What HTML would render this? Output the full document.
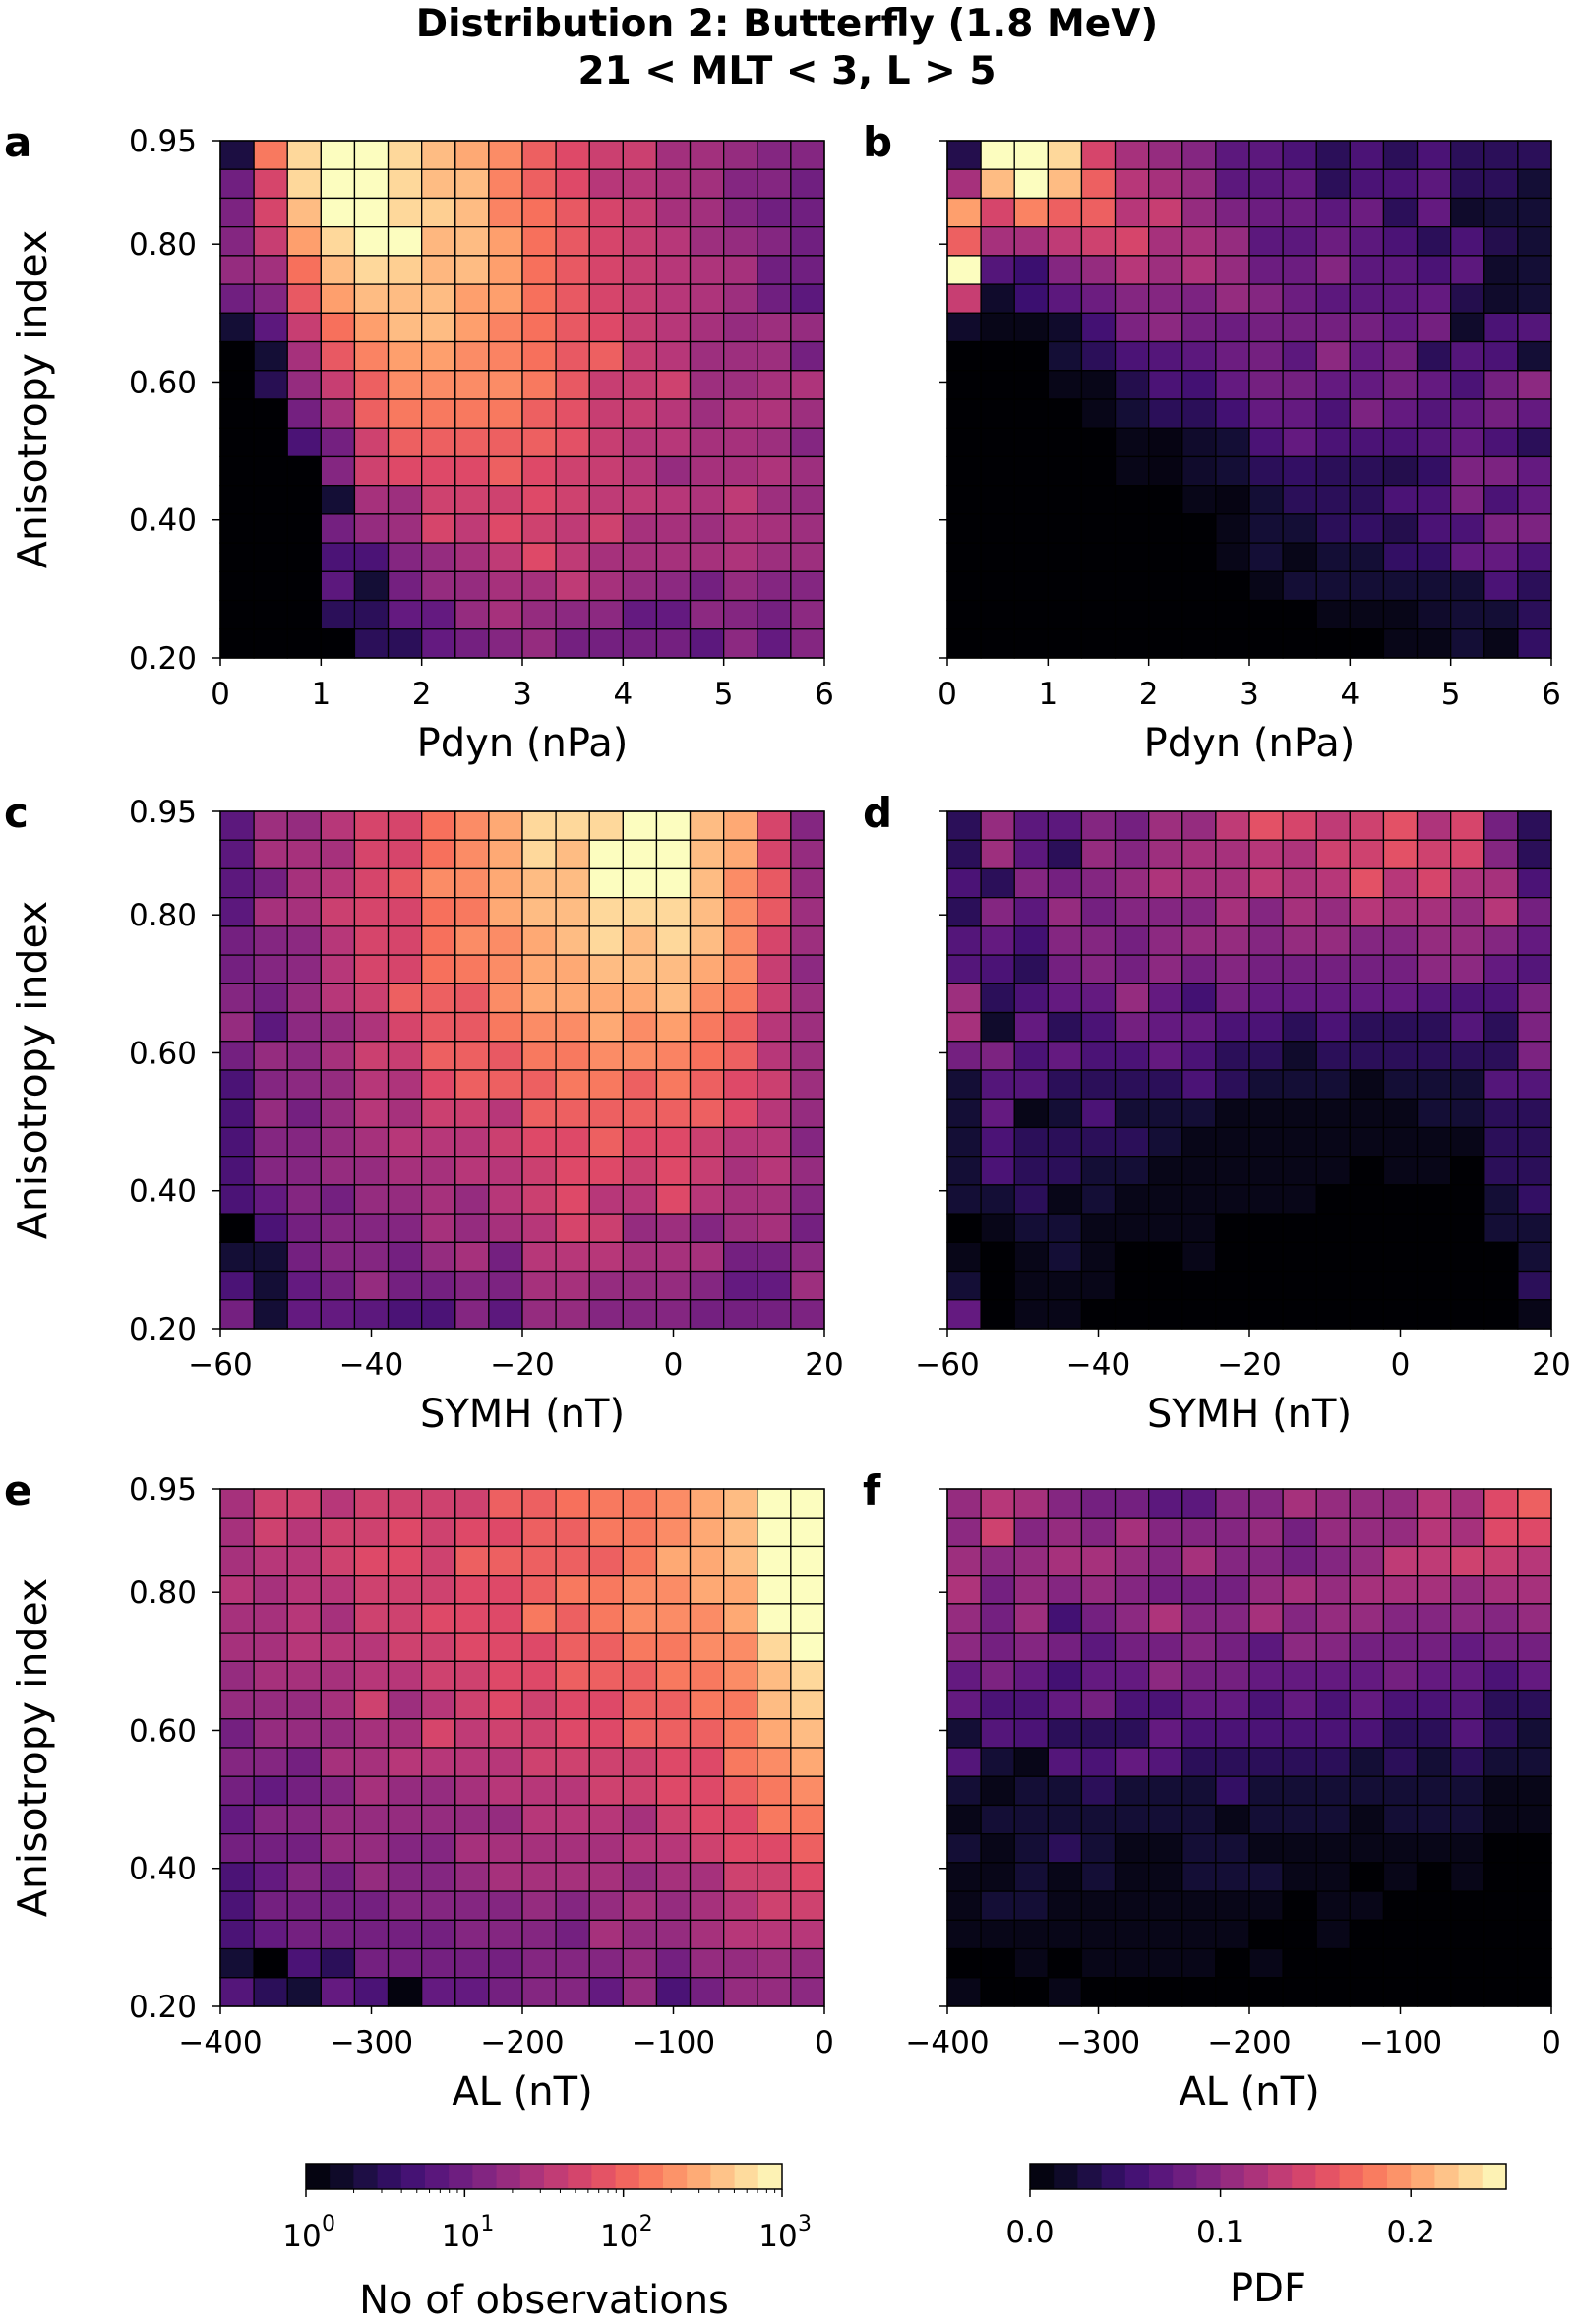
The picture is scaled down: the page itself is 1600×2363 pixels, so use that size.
<!DOCTYPE html>
<html><head><meta charset="utf-8"><style>
html,body{margin:0;padding:0;background:#fff}
svg text{font-family:"DejaVu Sans","Liberation Sans",sans-serif;fill:#000}
</style></head><body>
<svg id="fig" width="1600" height="2358" viewBox="0 0 1600 2358" xmlns="http://www.w3.org/2000/svg">
<text x="800" y="37" font-size="39" font-weight="bold" text-anchor="middle">Distribution 2: Butterfly (1.8 MeV)</text>
<text x="800" y="85" font-size="39" font-weight="bold" text-anchor="middle">21 &lt; MLT &lt; 3, L &gt; 5</text>
</svg>
<script>
// Values are fractions of each panel's colour range (counts: log10 0..3, PDF: 0..0.25); rows top (0.95) to bottom (0.20)
const panelA = [
[0.12,0.72,0.92,1,1,0.92,0.86,0.82,0.76,0.66,0.6,0.55,0.55,0.45,0.45,0.42,0.38,0.38],
[0.33,0.58,0.92,1,1,0.92,0.86,0.86,0.74,0.66,0.6,0.5,0.5,0.46,0.45,0.38,0.38,0.33],
[0.36,0.58,0.86,1,1,0.92,0.9,0.86,0.74,0.7,0.64,0.58,0.54,0.46,0.45,0.38,0.33,0.33],
[0.38,0.54,0.8,0.92,1,1,0.85,0.86,0.8,0.7,0.64,0.58,0.54,0.5,0.44,0.42,0.38,0.33],
[0.42,0.45,0.7,0.86,0.92,0.9,0.85,0.86,0.8,0.7,0.64,0.58,0.54,0.5,0.48,0.46,0.33,0.33],
[0.33,0.38,0.64,0.8,0.86,0.86,0.86,0.8,0.8,0.7,0.64,0.58,0.54,0.5,0.48,0.44,0.33,0.28],
[0.1,0.28,0.54,0.7,0.8,0.86,0.86,0.8,0.74,0.7,0.64,0.6,0.54,0.5,0.46,0.42,0.44,0.42],
[0,0.1,0.46,0.64,0.74,0.8,0.8,0.76,0.74,0.7,0.64,0.66,0.54,0.5,0.44,0.44,0.44,0.34],
[0,0.15,0.42,0.54,0.66,0.76,0.76,0.76,0.76,0.72,0.64,0.54,0.54,0.56,0.44,0.44,0.46,0.48],
[0,0,0.34,0.46,0.66,0.72,0.72,0.72,0.72,0.66,0.62,0.54,0.54,0.5,0.44,0.48,0.48,0.44],
[0,0,0.24,0.34,0.56,0.66,0.66,0.66,0.66,0.66,0.62,0.54,0.5,0.5,0.46,0.46,0.44,0.38],
[0,0,0,0.38,0.56,0.6,0.6,0.6,0.66,0.6,0.56,0.54,0.5,0.42,0.46,0.46,0.48,0.44],
[0,0,0,0.1,0.46,0.44,0.56,0.56,0.56,0.6,0.56,0.52,0.52,0.5,0.48,0.52,0.44,0.42],
[0,0,0,0.34,0.42,0.44,0.58,0.52,0.6,0.56,0.52,0.56,0.46,0.46,0.44,0.48,0.46,0.44],
[0,0,0,0.24,0.24,0.38,0.42,0.46,0.52,0.6,0.52,0.46,0.46,0.46,0.46,0.48,0.44,0.44],
[0,0,0,0.28,0.1,0.34,0.42,0.42,0.46,0.46,0.52,0.46,0.42,0.4,0.34,0.42,0.38,0.38],
[0,0,0,0.16,0.16,0.3,0.3,0.42,0.46,0.42,0.4,0.4,0.3,0.3,0.4,0.38,0.34,0.4],
[0,0,0,0,0.16,0.16,0.3,0.34,0.38,0.42,0.34,0.34,0.34,0.34,0.28,0.4,0.3,0.38]];
const panelB = [
[0.14,1,1,0.92,0.58,0.46,0.42,0.38,0.28,0.28,0.24,0.16,0.24,0.16,0.24,0.16,0.16,0.16],
[0.46,0.86,1,0.86,0.66,0.5,0.46,0.42,0.28,0.28,0.3,0.16,0.24,0.24,0.28,0.16,0.16,0.1],
[0.8,0.58,0.74,0.66,0.66,0.5,0.54,0.42,0.36,0.32,0.32,0.28,0.32,0.16,0.3,0.08,0.1,0.1],
[0.66,0.46,0.46,0.52,0.56,0.58,0.46,0.46,0.42,0.28,0.28,0.32,0.28,0.24,0.16,0.24,0.14,0.1],
[1,0.26,0.2,0.38,0.42,0.5,0.44,0.48,0.42,0.32,0.32,0.38,0.28,0.28,0.24,0.28,0.08,0.1],
[0.54,0.08,0.2,0.28,0.32,0.38,0.38,0.36,0.42,0.38,0.32,0.28,0.28,0.28,0.3,0.14,0.08,0.1],
[0.08,0.04,0.04,0.08,0.22,0.36,0.4,0.34,0.32,0.34,0.34,0.34,0.34,0.3,0.34,0.08,0.24,0.26],
[0,0,0,0.1,0.16,0.24,0.26,0.28,0.32,0.34,0.28,0.4,0.3,0.34,0.16,0.26,0.24,0.1],
[0,0,0,0.04,0.04,0.14,0.24,0.22,0.3,0.34,0.34,0.3,0.3,0.34,0.3,0.24,0.34,0.4],
[0,0,0,0,0.04,0.1,0.16,0.16,0.22,0.3,0.3,0.24,0.36,0.3,0.26,0.3,0.34,0.3],
[0,0,0,0,0,0.04,0.03,0.08,0.1,0.24,0.3,0.24,0.24,0.24,0.26,0.3,0.24,0.16],
[0,0,0,0,0,0.04,0.03,0.08,0.1,0.16,0.18,0.16,0.16,0.14,0.18,0.36,0.36,0.3],
[0,0,0,0,0,0,0,0.04,0.03,0.1,0.16,0.16,0.16,0.24,0.24,0.36,0.24,0.3],
[0,0,0,0,0,0,0,0,0.04,0.1,0.1,0.16,0.18,0.14,0.24,0.24,0.36,0.36],
[0,0,0,0,0,0,0,0,0.04,0.1,0.04,0.1,0.1,0.18,0.18,0.3,0.3,0.24],
[0,0,0,0,0,0,0,0,0,0.04,0.1,0.1,0.1,0.1,0.1,0.1,0.24,0.16],
[0,0,0,0,0,0,0,0,0,0,0,0.04,0.04,0.04,0.08,0.1,0.1,0.16],
[0,0,0,0,0,0,0,0,0,0,0,0,0,0.04,0.04,0.1,0.04,0.18]];
const panelC = [
[0.28,0.44,0.42,0.5,0.58,0.58,0.7,0.76,0.82,0.92,0.92,0.92,1,1,0.86,0.82,0.58,0.38],
[0.28,0.46,0.46,0.46,0.58,0.58,0.7,0.76,0.82,0.92,0.86,1,1,1,0.86,0.82,0.58,0.42],
[0.28,0.34,0.46,0.5,0.58,0.64,0.76,0.76,0.82,0.86,0.86,1,1,1,0.86,0.76,0.64,0.42],
[0.28,0.46,0.46,0.55,0.58,0.58,0.7,0.72,0.82,0.86,0.86,0.92,0.92,0.92,0.86,0.76,0.64,0.44],
[0.34,0.38,0.4,0.5,0.58,0.58,0.7,0.76,0.76,0.82,0.86,0.92,0.86,0.92,0.86,0.76,0.58,0.44],
[0.34,0.38,0.4,0.5,0.58,0.58,0.7,0.72,0.76,0.82,0.82,0.86,0.86,0.86,0.82,0.76,0.54,0.4],
[0.38,0.34,0.42,0.5,0.55,0.66,0.66,0.64,0.76,0.82,0.82,0.82,0.82,0.86,0.76,0.72,0.55,0.44],
[0.42,0.28,0.4,0.42,0.48,0.58,0.64,0.64,0.72,0.76,0.76,0.82,0.76,0.8,0.72,0.66,0.5,0.44],
[0.34,0.42,0.4,0.46,0.55,0.54,0.66,0.66,0.64,0.72,0.72,0.76,0.76,0.74,0.7,0.66,0.5,0.44],
[0.24,0.38,0.4,0.42,0.5,0.48,0.6,0.66,0.66,0.66,0.72,0.72,0.66,0.72,0.66,0.6,0.55,0.44],
[0.24,0.42,0.34,0.42,0.5,0.46,0.55,0.55,0.5,0.66,0.66,0.66,0.66,0.66,0.66,0.6,0.5,0.42],
[0.24,0.38,0.38,0.42,0.46,0.5,0.5,0.5,0.55,0.6,0.6,0.66,0.6,0.6,0.55,0.5,0.5,0.38],
[0.24,0.38,0.38,0.42,0.42,0.46,0.46,0.5,0.5,0.55,0.6,0.6,0.55,0.6,0.54,0.46,0.5,0.42],
[0.24,0.3,0.38,0.34,0.42,0.42,0.46,0.42,0.5,0.55,0.6,0.5,0.5,0.6,0.5,0.46,0.46,0.38],
[0,0.24,0.34,0.38,0.38,0.38,0.46,0.42,0.46,0.5,0.58,0.55,0.42,0.44,0.38,0.44,0.46,0.34],
[0.1,0.1,0.34,0.38,0.38,0.34,0.42,0.46,0.34,0.5,0.5,0.5,0.46,0.46,0.46,0.34,0.34,0.4],
[0.24,0.1,0.3,0.34,0.42,0.34,0.34,0.38,0.36,0.46,0.46,0.42,0.42,0.42,0.38,0.3,0.3,0.44],
[0.34,0.1,0.3,0.3,0.28,0.24,0.24,0.38,0.28,0.42,0.42,0.38,0.38,0.38,0.34,0.34,0.34,0.36]];
const panelD = [
[0.16,0.42,0.28,0.28,0.38,0.34,0.44,0.42,0.52,0.62,0.58,0.52,0.56,0.62,0.48,0.58,0.34,0.16],
[0.16,0.44,0.28,0.16,0.42,0.38,0.44,0.46,0.46,0.5,0.48,0.56,0.56,0.62,0.56,0.58,0.38,0.16],
[0.24,0.16,0.38,0.34,0.38,0.42,0.48,0.46,0.46,0.52,0.48,0.5,0.62,0.5,0.58,0.48,0.46,0.24],
[0.16,0.38,0.28,0.42,0.34,0.38,0.38,0.38,0.46,0.38,0.46,0.42,0.5,0.46,0.46,0.42,0.5,0.34],
[0.26,0.3,0.22,0.38,0.38,0.34,0.4,0.42,0.42,0.38,0.42,0.42,0.38,0.38,0.42,0.42,0.38,0.3],
[0.26,0.24,0.16,0.34,0.38,0.34,0.4,0.34,0.38,0.34,0.34,0.34,0.34,0.34,0.4,0.4,0.3,0.26],
[0.44,0.16,0.24,0.3,0.3,0.42,0.3,0.22,0.34,0.3,0.3,0.3,0.3,0.3,0.26,0.24,0.24,0.36],
[0.46,0.08,0.3,0.16,0.24,0.34,0.3,0.3,0.24,0.24,0.16,0.24,0.16,0.16,0.16,0.26,0.16,0.36],
[0.34,0.36,0.24,0.3,0.24,0.24,0.3,0.24,0.16,0.16,0.08,0.16,0.16,0.16,0.16,0.16,0.16,0.36],
[0.1,0.26,0.26,0.16,0.16,0.16,0.16,0.24,0.16,0.1,0.1,0.1,0.04,0.1,0.1,0.1,0.26,0.26],
[0.1,0.3,0.04,0.1,0.24,0.1,0.1,0.1,0.04,0.04,0.04,0.04,0.04,0.04,0.1,0.1,0.16,0.16],
[0.1,0.24,0.16,0.16,0.16,0.16,0.1,0.04,0.04,0.04,0.04,0.04,0.04,0.04,0.04,0.04,0.16,0.16],
[0.1,0.24,0.16,0.16,0.1,0.1,0.04,0.04,0.04,0.04,0.04,0.04,0,0.04,0.04,0,0.16,0.16],
[0.1,0.1,0.16,0.04,0.1,0.04,0.04,0.04,0.04,0.04,0.04,0,0,0,0,0,0.1,0.18],
[0,0.04,0.1,0.1,0.04,0.04,0.04,0.04,0,0,0,0,0,0,0,0,0.1,0.1],
[0.04,0,0.04,0.1,0.04,0,0,0.04,0,0,0,0,0,0,0,0,0,0.1],
[0.1,0,0.04,0.04,0.04,0,0,0,0,0,0,0,0,0,0,0,0,0.16],
[0.3,0,0.04,0.04,0,0,0,0,0,0,0,0,0,0,0,0,0,0.04]];
const panelE = [
[0.46,0.56,0.56,0.5,0.56,0.56,0.56,0.56,0.66,0.66,0.7,0.72,0.72,0.76,0.82,0.86,1,1],
[0.46,0.56,0.5,0.56,0.56,0.6,0.56,0.6,0.6,0.66,0.66,0.72,0.72,0.76,0.82,0.86,1,1],
[0.46,0.5,0.5,0.56,0.6,0.6,0.56,0.66,0.66,0.66,0.66,0.66,0.72,0.82,0.82,0.86,1,1],
[0.5,0.46,0.5,0.5,0.56,0.56,0.56,0.6,0.6,0.66,0.72,0.72,0.76,0.76,0.82,0.82,1,1],
[0.46,0.46,0.5,0.46,0.56,0.56,0.6,0.6,0.6,0.72,0.66,0.72,0.76,0.76,0.76,0.82,1,1],
[0.46,0.46,0.5,0.5,0.5,0.56,0.56,0.6,0.6,0.6,0.66,0.66,0.72,0.72,0.76,0.76,0.92,1],
[0.42,0.46,0.46,0.46,0.5,0.5,0.56,0.56,0.6,0.6,0.66,0.66,0.66,0.72,0.72,0.76,0.86,0.92],
[0.42,0.42,0.42,0.46,0.56,0.44,0.5,0.56,0.6,0.56,0.6,0.6,0.66,0.66,0.72,0.72,0.86,0.9],
[0.34,0.42,0.42,0.42,0.46,0.46,0.58,0.52,0.56,0.56,0.6,0.6,0.66,0.66,0.66,0.72,0.82,0.86],
[0.38,0.38,0.34,0.46,0.46,0.5,0.5,0.5,0.5,0.56,0.56,0.56,0.56,0.6,0.6,0.72,0.76,0.82],
[0.34,0.3,0.34,0.38,0.46,0.42,0.42,0.46,0.5,0.5,0.5,0.56,0.56,0.6,0.6,0.66,0.72,0.76],
[0.3,0.38,0.38,0.42,0.42,0.42,0.42,0.42,0.42,0.5,0.5,0.5,0.46,0.56,0.6,0.6,0.72,0.72],
[0.34,0.34,0.34,0.42,0.42,0.38,0.38,0.46,0.46,0.46,0.46,0.46,0.5,0.5,0.56,0.6,0.6,0.66],
[0.24,0.3,0.38,0.34,0.42,0.38,0.38,0.42,0.46,0.46,0.46,0.46,0.42,0.46,0.46,0.56,0.56,0.6],
[0.24,0.34,0.34,0.34,0.34,0.38,0.38,0.38,0.38,0.42,0.38,0.42,0.46,0.42,0.46,0.5,0.56,0.56],
[0.24,0.3,0.34,0.34,0.34,0.34,0.34,0.38,0.38,0.38,0.34,0.46,0.42,0.42,0.46,0.5,0.5,0.5],
[0.1,0,0.24,0.16,0.34,0.34,0.34,0.34,0.34,0.38,0.38,0.38,0.42,0.34,0.42,0.42,0.44,0.42],
[0.26,0.16,0.1,0.3,0.24,0.02,0.3,0.3,0.34,0.38,0.38,0.3,0.42,0.24,0.34,0.42,0.42,0.4]];
const panelF = [
[0.42,0.5,0.46,0.38,0.34,0.34,0.28,0.28,0.38,0.38,0.46,0.42,0.42,0.42,0.5,0.46,0.6,0.66],
[0.4,0.56,0.38,0.42,0.38,0.46,0.38,0.38,0.38,0.42,0.34,0.42,0.42,0.42,0.5,0.46,0.6,0.6],
[0.44,0.4,0.42,0.46,0.46,0.42,0.38,0.46,0.38,0.38,0.34,0.38,0.42,0.52,0.52,0.56,0.54,0.5],
[0.48,0.34,0.42,0.38,0.42,0.38,0.34,0.34,0.34,0.42,0.46,0.42,0.46,0.46,0.46,0.42,0.46,0.46],
[0.42,0.34,0.44,0.22,0.34,0.4,0.48,0.38,0.38,0.46,0.38,0.42,0.42,0.38,0.38,0.4,0.38,0.42],
[0.4,0.34,0.38,0.34,0.28,0.34,0.34,0.38,0.34,0.28,0.4,0.38,0.34,0.34,0.34,0.3,0.34,0.34],
[0.3,0.36,0.3,0.22,0.3,0.3,0.4,0.34,0.34,0.3,0.3,0.3,0.3,0.34,0.3,0.3,0.24,0.3],
[0.3,0.24,0.24,0.3,0.34,0.24,0.24,0.3,0.3,0.24,0.3,0.24,0.3,0.24,0.24,0.26,0.16,0.16],
[0.1,0.26,0.24,0.16,0.16,0.16,0.3,0.24,0.24,0.24,0.24,0.24,0.24,0.16,0.16,0.26,0.16,0.1],
[0.26,0.1,0.04,0.26,0.24,0.3,0.26,0.16,0.16,0.16,0.16,0.16,0.1,0.16,0.1,0.16,0.1,0.1],
[0.1,0.04,0.1,0.1,0.16,0.1,0.1,0.1,0.18,0.1,0.1,0.1,0.1,0.1,0.1,0.1,0.04,0.04],
[0.04,0.1,0.1,0.1,0.1,0.1,0.1,0.1,0.04,0.1,0.1,0.1,0.04,0.1,0.1,0.1,0.04,0.04],
[0.1,0.04,0.1,0.16,0.1,0.04,0.04,0.1,0.1,0.04,0.04,0.04,0.04,0.04,0.04,0.04,0,0],
[0.04,0.04,0.1,0.04,0.1,0.04,0.04,0.1,0.1,0.1,0.04,0.04,0,0.04,0,0.04,0,0],
[0.04,0.1,0.1,0.04,0.04,0.04,0.04,0.04,0.04,0.04,0,0.04,0.04,0,0,0,0,0],
[0.04,0.04,0.04,0.04,0.04,0.04,0.04,0.04,0.04,0,0,0.04,0,0,0,0,0,0],
[0,0,0.04,0,0.04,0.04,0.04,0.04,0,0.04,0,0,0,0,0,0,0,0],
[0.04,0,0,0.04,0,0,0,0,0,0,0,0,0,0,0,0,0,0]];
const yTicks = [0.20, 0.40, 0.60, 0.80, 0.95];
const yTickLabels = ["0.20","0.40","0.60","0.80","0.95"];
const pdynTicks = [0,1,2,3,4,5,6];
const symhTicks = [-60,-40,-20,0,20];
const alTicks = [-400,-300,-200,-100,0];
const pdfTicks = [0.0,0.1,0.2];
const pdfTickLabels = ["0.0","0.1","0.2"];
const countExps = [0,1,2,3];

const NS = "http://www.w3.org/2000/svg";
const svg = document.getElementById("fig");
const magmaStops = [[0,0,0,4],[0.1,20,14,54],[0.2,59,15,112],[0.3,100,26,128],[0.4,140,41,129],[0.5,183,55,121],[0.6,222,73,104],[0.7,247,112,92],[0.8,254,159,109],[0.9,254,207,146],[1,252,253,191]];
function magma(t){
  t=Math.max(0,Math.min(1,t));
  for(let i=1;i<magmaStops.length;i++){
    const a=magmaStops[i-1],b=magmaStops[i];
    if(t<=b[0]){const f=(t-a[0])/(b[0]-a[0]);
      return "rgb("+[1,2,3].map(k=>Math.round(a[k]+(b[k]-a[k])*f)).join(",")+")";}
  }
  return "rgb(252,253,191)";
}
function mk(tag,attrs,parent){const e=document.createElementNS(NS,tag);for(const k in attrs)e.setAttribute(k,attrs[k]);(parent||svg).appendChild(e);return e;}
function fmt(v){return v<0?"\u2212"+Math.abs(v):String(v);}

const W=614, H=526, YMIN=0.20, YMAX=0.95;
const TF=31;
const panels=[
 {id:"a",x0:224,y0:143,data:panelA,xmin:0,xmax:6,ticks:pdynTicks,xlabel:"Pdyn (nPa)",left:true},
 {id:"b",x0:963,y0:143,data:panelB,xmin:0,xmax:6,ticks:pdynTicks,xlabel:"Pdyn (nPa)",left:false},
 {id:"c",x0:224,y0:825,data:panelC,xmin:-60,xmax:20,ticks:symhTicks,xlabel:"SYMH (nT)",left:true},
 {id:"d",x0:963,y0:825,data:panelD,xmin:-60,xmax:20,ticks:symhTicks,xlabel:"SYMH (nT)",left:false},
 {id:"e",x0:224,y0:1514,data:panelE,xmin:-400,xmax:0,ticks:alTicks,xlabel:"AL (nT)",left:true},
 {id:"f",x0:963,y0:1514,data:panelF,xmin:-400,xmax:0,ticks:alTicks,xlabel:"AL (nT)",left:false}];

panels.forEach(p=>{
  const g=mk("g",{});
  
  
  const xs=v=>p.x0+(v-p.xmin)/(p.xmax-p.xmin)*W;
  const ys=v=>p.y0+(YMAX-v)/(YMAX-YMIN)*H;
  const nr=p.data.length, nc=p.data[0].length;
  const dx=(p.xmax-p.xmin)/nc, dy=(YMAX-YMIN)/nr;
  p.data.forEach((row,r)=>row.forEach((v,c)=>{
    const xa=xs(p.xmin+c*dx), xb=xs(p.xmin+(c+1)*dx);
    const ya=ys(YMAX-r*dy), yb=ys(YMAX-(r+1)*dy);
    const rc=mk("rect",{x:xa,y:ya,width:xb-xa,height:yb-ya,fill:magma(v),stroke:"#000","stroke-width":1.3},g);
    
    
  }));
  const fr=mk("rect",{x:p.x0,y:p.y0,width:W,height:H,fill:"none",stroke:"#000","stroke-width":1.5},g);
  
  
  yTicks.forEach((v,i)=>{
    const y=ys(v);
    mk("line",{x1:p.x0-8,x2:p.x0,y1:y,y2:y,stroke:"#000","stroke-width":1.5},g);
    if(p.left){
      const t=mk("text",{x:p.x0-24,y:y+11,"font-size":TF,"text-anchor":"end"},g);
      t.textContent=yTickLabels[i];
      
      
    }
  });
  p.ticks.forEach(v=>{
    const x=xs(v);
    mk("line",{x1:x,x2:x,y1:p.y0+H,y2:p.y0+H+8,stroke:"#000","stroke-width":1.5},g);
    const t=mk("text",{x:x,y:p.y0+H+47,"font-size":TF,"text-anchor":"middle"},g);
    t.textContent=fmt(v);
    
    
  });
  const xl=mk("text",{x:p.x0+W/2,y:p.y0+H+100,"font-size":40,"text-anchor":"middle"},g);
  xl.textContent=p.xlabel;
  
  
  const lt=mk("text",{x:p.left?4:877,y:p.y0+16,"font-size":42,"font-weight":"bold"},g);
  lt.textContent=p.id;
  
  
  if(p.left){
    const yt=mk("text",{x:0,y:0,"font-size":41,"text-anchor":"middle",transform:"translate(47,"+(p.y0+H/2)+") rotate(-90)"},g);
    yt.textContent="Anisotropy index";
    
    
  }
});

// colorbars
const NLEV=20, CBY=2200, CBH=26, CBW=484;
function colorbar(x0,name){
  const g=mk("g",{});
  
  
  for(let i=0;i<NLEV;i++){
    mk("rect",{x:x0+i*CBW/NLEV,y:CBY,width:CBW/NLEV+0.5,height:CBH,fill:magma((i+0.5)/NLEV)},g);
  }
  mk("rect",{x:x0,y:CBY,width:CBW,height:CBH,fill:"none",stroke:"#000","stroke-width":1.5},g);
  return g;
}
const g1=colorbar(311,"colorbar-observations");
countExps.forEach(e=>{
  const x=311+e/3*CBW;
  mk("line",{x1:x,x2:x,y1:CBY+CBH,y2:CBY+CBH+8,stroke:"#000","stroke-width":1.5},g1);
  const t=mk("text",{x:x-4,y:CBY+CBH+58,"font-size":TF,"text-anchor":"middle"},g1);
  t.textContent="10";
  
  
  const s=mk("text",{x:x+16,y:CBY+CBH+42,"font-size":22},g1);
  s.textContent=String(e);
  if(e<3){for(let m=2;m<10;m++){const xm=311+(e+Math.log10(m))/3*CBW;
    mk("line",{x1:xm,x2:xm,y1:CBY+CBH,y2:CBY+CBH+4,stroke:"#000","stroke-width":1},g1);}}
});
const c1t=mk("text",{x:553,y:2352,"font-size":40,"text-anchor":"middle"},g1);
c1t.textContent="No of observations";


const g2=colorbar(1047,"colorbar-pdf");
pdfTicks.forEach((v,i)=>{
  const x=1047+v/0.25*CBW;
  mk("line",{x1:x,x2:x,y1:CBY+CBH,y2:CBY+CBH+8,stroke:"#000","stroke-width":1.5},g2);
  const t=mk("text",{x:x,y:CBY+CBH+54,"font-size":TF,"text-anchor":"middle"},g2);
  t.textContent=pdfTickLabels[i];
  
  
});
const c2t=mk("text",{x:1289,y:2340,"font-size":40,"text-anchor":"middle"},g2);
c2t.textContent="PDF";


</script>
</body></html>
